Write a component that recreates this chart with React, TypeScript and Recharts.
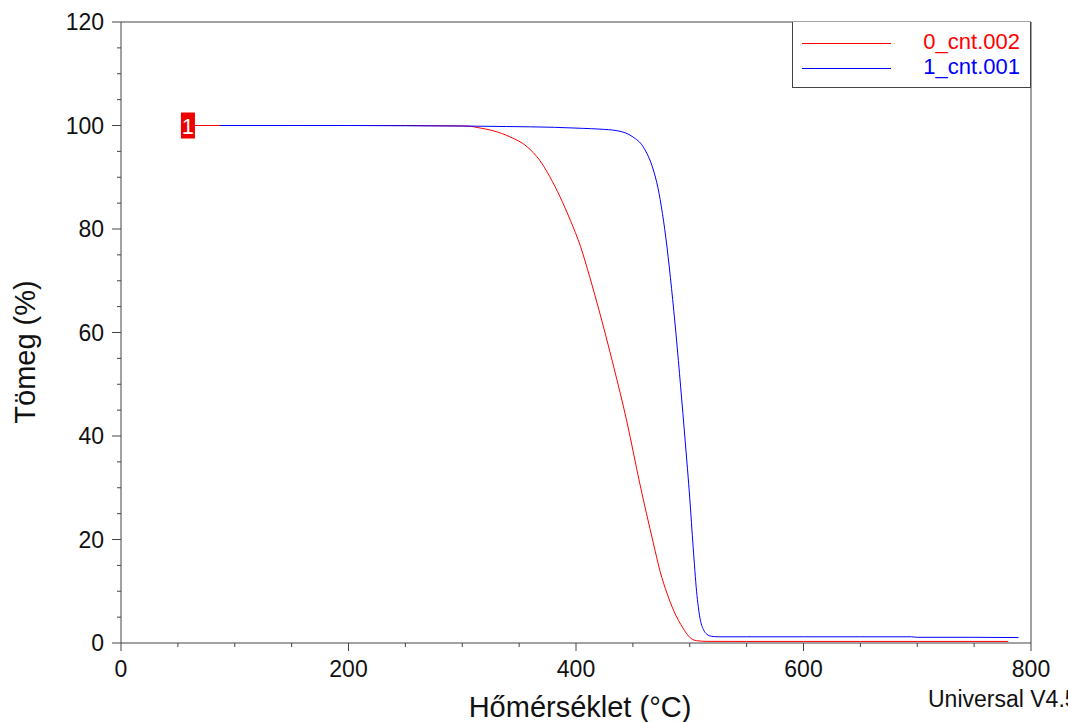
import { LineChart, Line, XAxis, YAxis, ReferenceLine, ReferenceDot } from "recharts";

// 0_cnt.002 (piros)
const redTemp = [65, 100, 150, 200, 250, 280, 304, 316, 327, 342, 357, 368, 377, 386, 395, 404, 412, 420, 433, 445, 456, 468, 474, 480, 486, 494, 500, 506, 515, 550, 600, 650, 700, 750, 780];
const redMass = [100, 100, 100, 100, 100, 99.95, 99.9, 99.5, 99.0, 97.8, 95.9, 93.3, 90.1, 86.2, 81.7, 76.6, 70.8, 64.5, 53.5, 42.5, 30.9, 19.3, 13.8, 9.6, 6.2, 2.9, 1.1, 0.45, 0.32, 0.3, 0.3, 0.3, 0.3, 0.3, 0.3];

// 1_cnt.001 (kék)
const blueTemp = [87, 150, 200, 250, 300, 339, 381, 406, 421, 436, 450, 459, 468, 472, 476, 480, 484, 488, 492, 496, 500, 503, 506, 509, 512, 515, 519, 525, 550, 600, 650, 695, 700, 750, 789];
const blueMass = [100, 100, 100, 99.95, 99.9, 99.8, 99.65, 99.45, 99.3, 99.0, 97.8, 95.9, 91.4, 88, 83, 76.5, 68.5, 59.5, 49.5, 39, 28, 18.5, 10, 4.8, 2.6, 1.7, 1.3, 1.2, 1.2, 1.2, 1.2, 1.2, 1.1, 1.1, 1.05];

const xTicks = [0, 50, 100, 150, 200, 250, 300, 350, 400, 450, 500, 550, 600, 650, 700, 750, 800];
const yTicks = [0, 5, 10, 15, 20, 25, 30, 35, 40, 45, 50, 55, 60, 65, 70, 75, 80, 85, 90, 95, 100, 105, 110, 115, 120];

const redData = redTemp.map((t, i) => ({ t, m: redMass[i] }));
const blueData = blueTemp.map((t, i) => ({ t, m: blueMass[i] }));

const FONT = "'Liberation Sans', Arial, sans-serif";
const AXIS = "#444";

const XTick = (p: any) => {
  const v = p.payload.value;
  const major = v % 200 === 0;
  return (
    <g>
      <line x1={p.x} x2={p.x} y1={p.y} y2={p.y + (major ? 8 : 4)} stroke={AXIS} />
      {major && (
        <text x={p.x} y={p.y + 34} textAnchor="middle" fontSize={23} fontFamily={FONT} fill="#111">
          {v}
        </text>
      )}
    </g>
  );
};

const YTick = (p: any) => {
  const v = p.payload.value;
  const major = v % 20 === 0;
  return (
    <g>
      <line x1={p.x - (major ? 9 : 4)} x2={p.x} y1={p.y} y2={p.y} stroke={AXIS} />
      {major && (
        <text x={p.x - 17} y={p.y + 8} textAnchor="end" fontSize={23} fontFamily={FONT} fill="#111">
          {v}
        </text>
      )}
    </g>
  );
};

const Marker = (p: any) => (
  <g>
    <rect x={p.cx - 14} y={p.cy - 13} width={14} height={26} fill="#ee0000" />
    <text x={p.cx - 7} y={p.cy + 8} textAnchor="middle" fontSize={22} fontFamily={FONT} fill="#fff">1</text>
  </g>
);

export default function App() {
  return (
    <div style={{ position: "absolute", left: 0, top: 0, width: 1068, height: 722, overflow: "hidden", background: "#fff", fontFamily: FONT }}>
      <LineChart width={1068} height={722} data={redData} margin={{ top: 22, right: 37, left: 0, bottom: 0 }}>
        <XAxis
          dataKey="t"
          type="number"
          domain={[0, 800]}
          ticks={xTicks}
          interval={0}
          tickSize={0}
          tickMargin={0}
          tickLine={false}
          tick={<XTick />}
          height={79}
          stroke={AXIS}
          allowDataOverflow
          label={{
            content: () => (
              <text x={580} y={717} textAnchor="middle" fontSize={29} fontFamily={FONT} fill="#111">
                Hőmérséklet (°C)
              </text>
            ),
          }}
        />
        <YAxis
          type="number"
          domain={[0, 120]}
          ticks={yTicks}
          interval={0}
          tickSize={0}
          tickMargin={0}
          tickLine={false}
          tick={<YTick />}
          width={121}
          stroke={AXIS}
          allowDataOverflow
          label={{
            content: () => (
              <text x={35} y={352} transform="rotate(-90 35 352)" textAnchor="middle" fontSize={29} fontFamily={FONT} fill="#111">
                Tömeg (%)
              </text>
            ),
          }}
        />
        <ReferenceLine y={120} stroke={AXIS} />
        <ReferenceLine x={800} stroke={AXIS} />
        <Line data={redData} dataKey="m" type="monotone" stroke="#ff0000" strokeWidth={1} dot={false} isAnimationActive={false} />
        <Line data={blueData} dataKey="m" type="monotone" stroke="#0000ff" strokeWidth={1} dot={false} isAnimationActive={false} />
        <ReferenceDot x={65} y={100} r={0} shape={<Marker />} />
      </LineChart>

      <div style={{ position: "absolute", left: 792, top: 22, width: 237, height: 65, border: "1px solid #444", borderTop: "none", background: "#fff" }}>
        <div style={{ position: "absolute", left: 9, top: 21, width: 89, height: 1, background: "#ff0000" }} />
        <div style={{ position: "absolute", right: 10, top: 7, fontSize: 22, color: "#ff0000", lineHeight: "26px" }}>0_cnt.002</div>
        <div style={{ position: "absolute", left: 9, top: 46, width: 89, height: 1, background: "#0000ff" }} />
        <div style={{ position: "absolute", right: 10, top: 32, fontSize: 22, color: "#0000ff", lineHeight: "26px" }}>1_cnt.001</div>
      </div>

      <div style={{ position: "absolute", left: 928, top: 686, fontSize: 23, color: "#111", whiteSpace: "nowrap" }}>
        Universal V4.5A TA Instruments
      </div>
    </div>
  );
}
